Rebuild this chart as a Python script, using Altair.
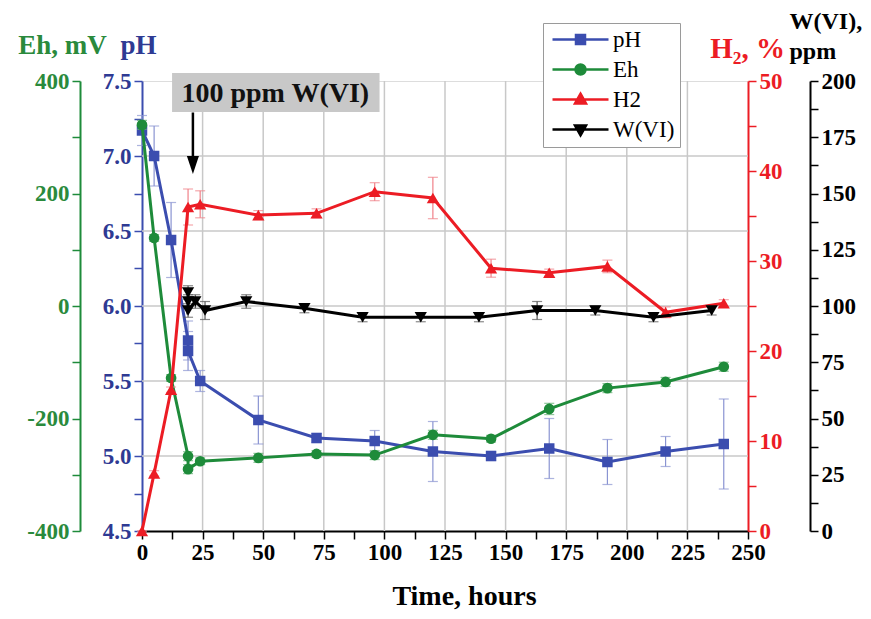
import altair as alt
import pandas as pd

FONT = "Liberation Serif"

# ---------------- data ----------------
ph_t = [0, 5, 12, 19, 19, 24, 48, 72, 96, 120, 144, 168, 192, 216, 240]
ph_v = [7.17, 7.0, 6.44, 5.77, 5.70, 5.5, 5.24, 5.12, 5.10, 5.03, 5.0, 5.05, 4.96, 5.03, 5.08]
ph_e = [0.1, 0.2, 0.25, 0.13, 0.13, 0.07, 0.16, 0.03, 0.07, 0.2, 0.03, 0.2, 0.15, 0.1, 0.3]

eh_t = [0, 5, 12, 19, 19, 24, 48, 72, 96, 120, 144, 168, 192, 216, 240]
eh_v = [322, 121, -128, -267, -290, -276, -270, -263, -265, -229, -236, -183, -146, -135, -108]
eh_e = [8, 6, 6, 8, 8, 6, 8, 6, 8, 8, 6, 10, 8, 8, 8]

h2_t = [0, 5, 12, 19, 24, 48, 72, 96, 120, 144, 168, 192, 216, 240]
h2_v = [0, 6.4, 15.7, 36.0, 36.3, 35.1, 35.3, 37.7, 37.0, 29.2, 28.7, 29.4, 24.3, 25.3]
h2_e = [0, 0.3, 0.3, 2.0, 1.5, 0.5, 0.5, 1.0, 2.3, 1.0, 0.4, 0.7, 0.6, 0.4]

w_t = [19, 19, 19, 22, 26, 43, 67, 91, 115, 139, 163, 187, 211, 235]
w_v = [106, 102, 98, 102, 98, 102, 99, 95, 95, 95, 98, 98, 95, 98]
w_e = [3, 3, 3, 3, 4, 3, 2, 2, 2, 2, 4, 2, 2, 2]

series_names = ["pH", "Eh", "H2", "W(VI)"]
x_ticks = [i * 12.5 for i in range(21)]
ph_ticks = [4.5 + 0.25 * i for i in range(13)]
eh_ticks = [-400 + 100 * i for i in range(9)]
h2_ticks = [5 * i for i in range(11)]
w_ticks = [12.5 * i for i in range(17)]
ph_grid = [5.0, 5.5, 6.0, 6.5, 7.0]
t_grid = [25, 50, 75, 100, 125, 150, 175, 200, 225]

# annotation (in time / pH units)
note_text = ["100 ppm W(VI)"]
note_box = {"t1": [12.4], "t2": [98.0], "v1": [7.553], "v2": [7.293]}
note_pos = {"t": [55.0], "v": [7.36]}
arrow = {"t": [21.0], "v1": [7.29], "v2": [6.99], "tip": [6.94]}

BLUE, BLUE_AX, BLUE_E = "#3B4DAF", "#2E3A93", "#8A94D2"
GREEN, GREEN_AX, GREEN_E = "#1E8B3A", "#2A8A3C", "#5FAE70"
RED, RED_E = "#EC1C24", "#F08088"
BLACK, BLACK_E = "#000000", "#555555"

LINE = "M-2.8,0L2.8,0 "
paths = [
    LINE + "M-0.45,-0.45L0.45,-0.45L0.45,0.45L-0.45,0.45Z",
    LINE + "M-0.5,0A0.5,0.5,0,1,1,0.5,0A0.5,0.5,0,1,1,-0.5,0Z",
    LINE + "M0,-0.58L0.55,0.4L-0.55,0.4Z",
    LINE + "M0,0.58L0.55,-0.4L-0.55,-0.4Z",
]
colors = [BLUE, GREEN, RED, BLACK]

xscale = alt.Scale(domain=[0, 250], nice=False, zero=False)
xaxis = alt.Axis(
    values=x_ticks,
    labelExpr="datum.value % 25 == 0 ? '' + datum.value : ''",
    domainColor=BLACK, domainWidth=2, tickColor=BLACK, tickWidth=1.5, tickSize=8,
    labelFont=FONT, labelFontSize=23, labelFontWeight="bold", labelColor=BLACK,
    labelPadding=2, labelOverlap=False, labelFlush=False, grid=False,
    title="Time, hours", titleFont=FONT, titleFontSize=28, titleFontWeight="bold",
    titleColor=BLACK, titleX=322, titleY=65, titleAlign="center", titleBaseline="middle",
)


def yaxis(orient, offset, values, expr, dcolor, lcolor, title, tx, ty, talign="center",
          tbase="middle", tsize=27):
    return alt.Axis(
        orient=orient, offset=offset, values=values, labelExpr=expr,
        domainColor=dcolor, domainWidth=2, tickColor=dcolor, tickWidth=1.5, tickSize=8,
        labelFont=FONT, labelFontSize=23, labelFontWeight="bold", labelColor=lcolor,
        labelPadding=3, labelOverlap=False, labelFlush=False, grid=False,
        title=title, titleFont=FONT, titleFontSize=tsize, titleFontWeight="bold",
        titleColor=lcolor, titleAngle=0, titleX=tx, titleY=ty, titleAlign=talign,
        titleBaseline=tbase, titleLineHeight=30,
    )


def make_df(t, v, e):
    return pd.DataFrame({
        "i": list(range(len(t))), "t": t, "v": v,
        "lo": [a - b for a, b in zip(v, e)], "hi": [a + b for a, b in zip(v, e)],
    })


def series_layers(df, domain, axis, color, ecolor, shape, size):
    ys = alt.Scale(domain=domain, nice=False, zero=False)
    x = alt.X("t:Q", scale=xscale, axis=xaxis)
    base = alt.Chart(df)
    err = base.mark_rule(color=ecolor, strokeWidth=1.2).encode(
        x=x, y=alt.Y("lo:Q", scale=ys, axis=axis), y2="hi:Q")
    cap_lo = base.mark_tick(color=ecolor, thickness=1.2, size=10, orient="horizontal").encode(
        x=x, y=alt.Y("lo:Q", scale=ys, axis=axis))
    cap_hi = base.mark_tick(color=ecolor, thickness=1.2, size=10, orient="horizontal").encode(
        x=x, y=alt.Y("hi:Q", scale=ys, axis=axis))
    line = base.mark_line(color=color, strokeWidth=3).encode(
        x=x, y=alt.Y("v:Q", scale=ys, axis=axis), order="i:Q")
    pts = base.mark_point(filled=True, color=color, shape=shape, size=size, opacity=1).encode(
        x=x, y=alt.Y("v:Q", scale=ys, axis=axis))
    return [err, cap_lo, cap_hi, line, pts], ys, x


ph_df = make_df(ph_t, ph_v, ph_e)
eh_df = make_df(eh_t, eh_v, eh_e)
h2_df = make_df(h2_t, h2_v, h2_e)
w_df = make_df(w_t, w_v, w_e)

ph_axis = yaxis("left", 0, ph_ticks,
                "round(datum.value*4) % 2 == 0 ? format(datum.value, '.1f') : ''",
                BLUE, BLUE_AX, "pH", -4, -36)
eh_axis = yaxis("left", 62, eh_ticks,
                "datum.value % 200 == 0 ? '' + datum.value : ''",
                GREEN, GREEN_AX, "Eh, mV", -18, -36)
h2_axis = yaxis("right", 0, h2_ticks,
                "datum.value % 10 == 0 ? '' + datum.value : ''",
                RED, RED, "H₂, %", -1, -33, tsize=29)
w_axis = yaxis("right", 62, w_ticks,
               "datum.value % 25 == 0 ? '' + datum.value : ''",
               BLACK, BLACK, ["W(VI),", "ppm"], -21, -72, "left", "top", tsize=24)

ph_layers, ph_scale, X = series_layers(ph_df, [4.5, 7.5], ph_axis, BLUE, BLUE_E, "square", 110)
eh_layers, _, _ = series_layers(eh_df, [-400, 400], eh_axis, GREEN, GREEN_E, "circle", 115)
h2_layers, _, _ = series_layers(h2_df, [0, 50], h2_axis, RED, RED_E, "triangle-up", 150)
w_layers, _, _ = series_layers(w_df, [0, 200], w_axis, BLACK, BLACK_E, "triangle-down", 150)

# grid
hgrid = alt.Chart(pd.DataFrame({"v": ph_grid})).mark_rule(color="#C8C8C8", strokeWidth=1.5).encode(
    y=alt.Y("v:Q", scale=ph_scale, axis=ph_axis))
vgrid = alt.Chart(pd.DataFrame({"t": t_grid})).mark_rule(color="#C8C8C8", strokeWidth=1.5).encode(
    x=X)

# annotation
box = alt.Chart(pd.DataFrame(note_box)).mark_rect(color="#C8C8C8").encode(
    x=alt.X("t1:Q", scale=xscale, axis=xaxis), x2="t2:Q",
    y=alt.Y("v1:Q", scale=ph_scale, axis=ph_axis), y2="v2:Q")
note = alt.Chart(pd.DataFrame({"label": note_text, **note_pos})).mark_text(
    font=FONT, fontSize=28, fontWeight="bold", color="#111111", align="center",
    baseline="alphabetic").encode(
    x=X, y=alt.Y("v:Q", scale=ph_scale, axis=ph_axis), text="label:N")
shaft = alt.Chart(pd.DataFrame(arrow)).mark_rule(color=BLACK, strokeWidth=2.5).encode(
    x=X, y=alt.Y("v1:Q", scale=ph_scale, axis=ph_axis), y2="v2:Q")
head = alt.Chart(pd.DataFrame(arrow)).mark_point(
    filled=True, color=BLACK, shape="M-0.67,-1L0.67,-1L0,1Z", size=324, opacity=1).encode(
    x=X, y=alt.Y("tip:Q", scale=ph_scale, axis=ph_axis))

# legend carrier (invisible marks)
leg_df = pd.DataFrame({"series": series_names, "t": [0] * 4, "v": [6.0] * 4})
legend = alt.Legend(
    title=None, orient="none", legendX=401, legendY=-58, symbolSize=400,
    symbolOffset=21, symbolStrokeWidth=2.5, symbolOpacity=1, labelFont=FONT,
    labelFontSize=23, labelColor=BLACK, labelOffset=21, strokeColor="#9A9A9A",
    fillColor="white", padding=5, rowPadding=6,
)
leg = alt.Chart(leg_df).mark_point(filled=True, opacity=0, strokeWidth=2.5).encode(
    x=X, y=alt.Y("v:Q", scale=ph_scale, axis=ph_axis),
    shape=alt.Shape("series:N", scale=alt.Scale(domain=series_names, range=paths), legend=legend),
    fill=alt.Fill("series:N", scale=alt.Scale(domain=series_names, range=colors), legend=legend),
    stroke=alt.Stroke("series:N", scale=alt.Scale(domain=series_names, range=colors), legend=legend),
)

ph_group = alt.layer(hgrid, vgrid, box, note, shaft, head, *ph_layers, leg)
eh_group = alt.layer(*eh_layers)
h2_group = alt.layer(*h2_layers)
w_group = alt.layer(*w_layers)

chart = alt.layer(ph_group, eh_group, h2_group, w_group).resolve_scale(
    y="independent"
).properties(
    width=606, height=450,
    autosize=alt.AutoSizeParams(type="none"),
    padding={"left": 134, "top": 73, "right": 115, "bottom": 80},
).configure_view(strokeWidth=0).configure(background="white")

chart.save("out.html", embed_options={"renderer": "svg", "actions": False})
